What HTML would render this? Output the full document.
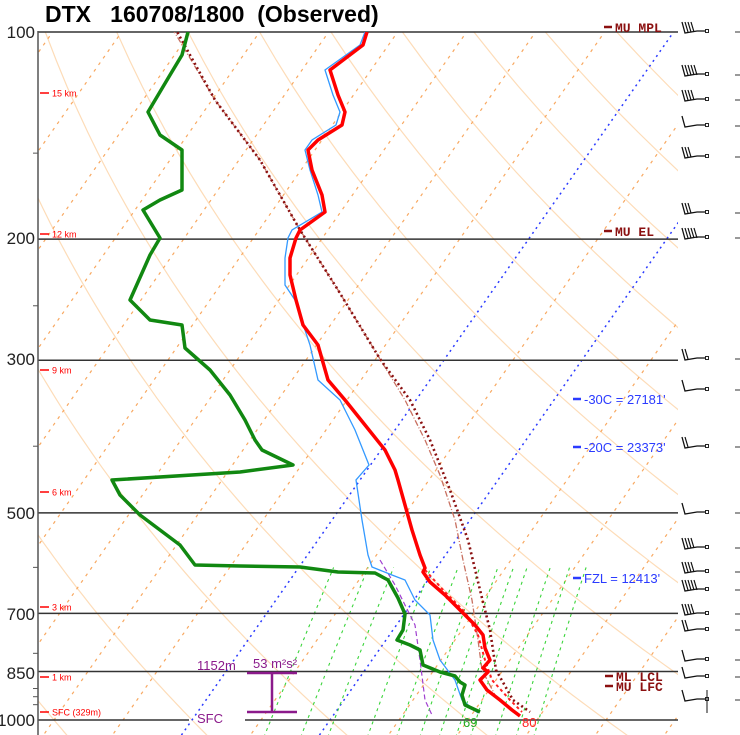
<!DOCTYPE html>
<html><head><meta charset="utf-8"><style>
html,body{margin:0;padding:0;background:#fff;}
svg{display:block;font-family:"Liberation Sans",sans-serif;}
</style></head><body>
<svg id="s" width="740" height="735" viewBox="0 0 740 735" xmlns="http://www.w3.org/2000/svg">
<defs><clipPath id="c"><rect x="38" y="32" width="640" height="703"/></clipPath></defs>
<rect width="740" height="735" fill="#fff"/>
<g id="bg" clip-path="url(#c)"></g>
<g id="fg"></g>
<text x="45" y="22" font-size="23" font-weight="bold" fill="#000" style="white-space:pre" xml:space="preserve">DTX   160708/1800  (Observed)</text>
</svg>
<script>
var NS="http://www.w3.org/2000/svg";
var bg=document.getElementById('bg'),fg=document.getElementById('fg');
function el(p,t,a,txt){var e=document.createElementNS(NS,t);for(var k in a)e.setAttribute(k,a[k]);if(txt!=null)e.textContent=txt;p.appendChild(e);return e;}
function Y(p){return 720-298.8*Math.log(1000/p);}
function X(T,y){return 330+6.9*T+0.7*(720-y);}
function pl(p,pts,st){return el(p,'polyline',Object.assign({points:pts.map(function(q){return q[0].toFixed(1)+','+q[1].toFixed(1)}).join(' '),fill:'none'},st));}
// dry adiabats
for(var th=-40;th<=220;th+=20){
 var pts=[];for(var p=1060;p>=95;p-=10){var Tk=(th+273.15)*Math.pow(p/1000,0.286)-273.15;var y=Y(p);pts.push([X(Tk,y),y]);}
 pl(bg,pts,{stroke:'#fddcb8','stroke-width':1.2});
}
// isotherms
for(var T=-120;T<=60;T+=10){
 var pts=[[X(T,740),740],[X(T,20),20]];
 if(T==-20||T==0) pl(bg,pts,{stroke:'#2b3bff','stroke-width':1.5,'stroke-dasharray':'2,4'});
 else pl(bg,pts,{stroke:'#f8a860','stroke-width':1.2,'stroke-dasharray':'3,5'});
}
// mixing lines
[2,3,4,6,8,10,12,14,16,20,24,28].forEach(function(w){
 var pts=[];for(var p=1060;p>=600;p-=10){var e=w*p/(622+w);var l=Math.log(e/6.112);var Td=243.5*l/(17.67-l);var y=Y(p);pts.push([X(Td,y),y]);}
 pl(bg,pts,{stroke:'#3ad43a','stroke-width':1.1,'stroke-dasharray':'3,4'});
});
// horizontal pressure lines
[100,200,300,500,700,850].forEach(function(p){var y=Y(p);el(fg,'line',{x1:38,x2:678,y1:y,y2:y,stroke:'#333','stroke-width':1.5});});
el(fg,'line',{x1:38,x2:189,y1:720,y2:720,stroke:'#333','stroke-width':1.5});
el(fg,'line',{x1:245,x2:678,y1:720,y2:720,stroke:'#333','stroke-width':1.5});
el(fg,'line',{x1:38,x2:38,y1:31,y2:735,stroke:'#555','stroke-width':1.5});
// left ticks
[150,250,400,600,800,900,925,950].forEach(function(p){var y=Y(p);el(fg,'line',{x1:33,x2:38,y1:y,y2:y,stroke:'#555'});});
[[100,32],[200,238],[300,359],[500,513],[700,614],[850,673],[1000,720]].forEach(function(a){el(fg,'text',{x:35,y:a[1]+6,'font-size':17,'text-anchor':'end',fill:'#222'},String(a[0]));});
// km labels
[['15 km',93],['12 km',234],['9 km',370],['6 km',492],['3 km',607],['1 km',677],['SFC (329m)',712]].forEach(function(a){
 el(fg,'line',{x1:40,x2:49,y1:a[1],y2:a[1],stroke:'#f00','stroke-width':1.5});
 el(fg,'text',{x:52,y:a[1]+3.5,'font-size':9,fill:'#f00'},a[0]);});
var G=el(fg,'g',{'clip-path':'url(#c)'});
// purple
pl(G,[[380,560],[395,585],[405,605],[415,625],[420,660],[425,700],[432,715]],{stroke:'#a040d0','stroke-width':1.2,'stroke-dasharray':'5,3'});
// parcels
pl(G,[[172,28],[215,100],[260,160],[300,230],[338,290],[380,359],[405,400],[425,440],[440,475],[455,520],[463,560],[472,600],[478,640],[482,670],[495,695],[513,712]],{stroke:'#c87060','stroke-width':1.3,'stroke-dasharray':'6,2,1,2'});
pl(G,[[175,28],[215,100],[260,160],[300,230],[338,290],[380,359],[410,400],[430,440],[450,490],[468,540],[480,590],[490,630],[496,670],[513,700],[530,712]],{stroke:'#8b1010','stroke-width':2.6,'stroke-dasharray':'2,3'});
pl(G,[[425,570],[445,592],[465,612],[478,635],[485,660],[492,680],[510,700],[522,712]],{stroke:'#ff2020','stroke-width':2,'stroke-dasharray':'3,3'});
// wetbulb
pl(G,[[365,32],[360,45],[325,70],[333,95],[340,112],[336,125],[312,140],[305,150],[310,170],[318,195],[322,212],[292,230],[288,238],[285,258],[285,285],[295,300],[310,345],[318,380],[340,400],[355,430],[367,460],[369,465],[356,480],[362,520],[368,555],[372,567],[392,575],[405,580],[415,600],[430,615],[433,640],[440,660],[455,680],[462,700],[478,713]],{stroke:'#3399ff','stroke-width':1.3});
// temp
pl(G,[[367,32],[363,45],[330,70],[338,95],[345,112],[342,125],[318,140],[308,150],[312,170],[322,195],[325,212],[300,230],[296,238],[290,258],[290,275],[296,300],[303,325],[318,345],[322,359],[328,380],[345,400],[365,425],[385,450],[395,470],[398,480],[405,505],[412,530],[420,555],[425,568],[423,572],[430,582],[445,595],[460,610],[475,625],[483,635],[485,648],[490,660],[483,668],[488,672],[480,680],[487,690],[500,700],[512,710],[520,716]],{stroke:'#ff0000','stroke-width':3.5,'stroke-linejoin':'round'});
// dewpoint
pl(G,[[188,32],[182,55],[170,75],[148,112],[160,135],[182,150],[182,190],[160,200],[143,210],[160,238],[150,255],[130,300],[150,320],[182,325],[185,348],[210,370],[230,395],[245,420],[255,440],[262,450],[293,465],[240,472],[112,480],[120,495],[140,515],[180,545],[195,565],[240,566],[300,567],[338,572],[375,573],[388,580],[398,598],[405,614],[403,630],[397,640],[410,645],[420,650],[423,665],[440,672],[455,676],[460,682],[465,685],[462,695],[465,705],[480,712]],{stroke:'#118811','stroke-width':3.5,'stroke-linejoin':'round'});
// helicity
var pc='#8b1a8b';
el(fg,'line',{x1:247,x2:297,y1:673,y2:673,stroke:pc,'stroke-width':2.5});
el(fg,'line',{x1:272,x2:272,y1:673,y2:712,stroke:pc,'stroke-width':2.5});
el(fg,'line',{x1:247,x2:297,y1:712,y2:712,stroke:pc,'stroke-width':2.5});
el(fg,'text',{x:197,y:670,'font-size':13,fill:pc},'1152m');
el(fg,'text',{x:253,y:668,'font-size':13,fill:pc},'53 m²s²');
el(fg,'text',{x:197,y:723,'font-size':13,fill:pc},'SFC');
el(fg,'text',{x:463,y:727,'font-size':13,fill:'#22aa22'},'69');
el(fg,'text',{x:522,y:727,'font-size':13,fill:'#ff2020'},'80');
// right labels
function lab(x,y,t,c,serif){el(fg,'line',{x1:x,x2:x+8,y1:y,y2:y,stroke:c,'stroke-width':2.5});el(fg,'text',{x:x+11,y:y+5,'font-size':13,fill:c,'font-weight':serif?'bold':'normal','font-family':serif?'"Liberation Mono",monospace':'"Liberation Sans",sans-serif'},t);}
lab(604,27,'MU MPL','#8b1010',1);lab(604,231,'MU EL','#8b1010',1);
lab(573,399,'-30C = 27181\'','#2b3bff');lab(573,447,'-20C = 23373\'','#2b3bff');lab(573,578,'FZL = 12413\'','#2b3bff');
lab(605,676,'ML  LCL','#8b1010',1);lab(605,686,'MU  LFC','#8b1010',1);
// barbs
[[32,4],[75,5],[100,4],[126,1],[157,3],[213,3],[238,5],[359,2],[390,1],[447,2],[513,1],[548,4],[572,4],[590,5],[614,4],[630,2],[660,1],[677,1],[700,1]].forEach(function(b){
 var y=b[0];el(fg,'polyline',{points:'682,'+(y-10)+' 685,'+(y+1)+' 697,'+(y-1)+' 707,'+(y-1),fill:'none',stroke:'#111','stroke-width':1.3});
 for(var i=1;i<b[1];i++)el(fg,'line',{x1:685+i*3,x2:682+i*3,y1:y,y2:y-10,stroke:'#111','stroke-width':1.2});
 el(fg,'rect',{x:705.5,y:y-2.5,width:3,height:3,fill:'#fff',stroke:'#111','stroke-width':0.9});
 el(fg,'line',{x1:735,x2:740,y1:y,y2:y,stroke:'#333'});
});
el(fg,'line',{x1:707,x2:707,y1:690,y2:713,stroke:'#111'});
</script>
</body></html>
